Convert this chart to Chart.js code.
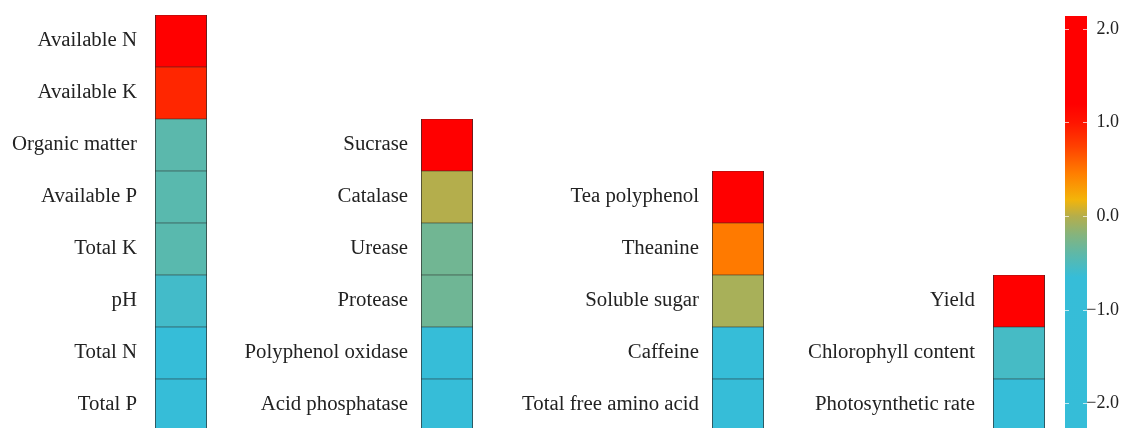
<!DOCTYPE html>
<html>
<head>
<meta charset="utf-8">
<script src="https://cdn.jsdelivr.net/npm/chart.js@4.4.1/dist/chart.umd.min.js"></script>
<style>
  html, body { margin: 0; padding: 0; background: #fff; overflow: hidden; }
  #wrap { position: relative; width: 1129px; height: 428px; overflow: hidden; }
  .box { position: absolute; }
</style>
</head>
<body>
<div id="wrap">
  <div class="box" style="left:0px;top:15px;width:207px;height:416px"><canvas id="soil"></canvas></div>
  <div class="box" style="left:221px;top:119px;width:252px;height:312px"><canvas id="enzyme"></canvas></div>
  <div class="box" style="left:500px;top:171px;width:264px;height:260px"><canvas id="quality"></canvas></div>
  <div class="box" style="left:780px;top:275px;width:265px;height:156px"><canvas id="growth"></canvas></div>
  <div class="box" style="left:1040px;top:0px;width:89px;height:428px"><canvas id="cbar"></canvas></div>
</div>
<script>
// --- data ---
const soilLabels = ['Available N', 'Available K', 'Organic matter', 'Available P', 'Total K', 'pH', 'Total N', 'Total P'];
const soilValues = [1.9, 0.9, -0.42, -0.43, -0.43, -0.57, -1.1, -1.3];

const enzymeLabels = ['Sucrase', 'Catalase', 'Urease', 'Protease', 'Polyphenol oxidase', 'Acid phosphatase'];
const enzymeValues = [1.8, 0.0, -0.3, -0.31, -1.0, -1.2];

const qualityLabels = ['Tea polyphenol', 'Theanine', 'Soluble sugar', 'Caffeine', 'Total free amino acid'];
const qualityValues = [1.6, 0.48, -0.05, -0.9, -1.1];

const growthLabels = ['Yield', 'Chlorophyll content', 'Photosynthetic rate'];
const growthValues = [1.5, -0.55, -1.0];

const cbMin = -2.26;
const cbMax = 2.14;
const cbTicks = [-2, -1, 0, 1, 2];

// colour map (value -> rgb)
const cmap = [
    [-2.3, [53, 189, 216]],
    [-0.65, [54, 189, 216]],
    [-0.4, [94, 184, 168]],
    [-0.2, [132, 180, 126]],
    [0.0, [180, 174, 76]],
    [0.18, [243, 180, 10]],
    [0.45, [255, 128, 0]],
    [0.75, [255, 64, 0]],
    [1.0, [255, 21, 0]],
    [1.2, [255, 0, 0]],
    [2.3, [255, 0, 0]]
];

function valueColor(v) {
    if (v <= cmap[0][0]) return 'rgb(' + cmap[0][1].join(',') + ')';
    for (let i = 1; i < cmap.length; i++) {
        if (v <= cmap[i][0]) {
            const [v0, c0] = cmap[i - 1];
            const [v1, c1] = cmap[i];
            const t = (v - v0) / (v1 - v0);
            const c = c0.map((a, k) => Math.round(a + (c1[k] - a) * t));
            return 'rgb(' + c.join(',') + ')';
        }
    }
    return 'rgb(' + cmap[cmap.length - 1][1].join(',') + ')';
}

const serif = '"Liberation Serif", "Times New Roman", serif';

// axis keeps a fixed width and no extra top/bottom padding
function fixAxis(width) {
    return s => {
        s.width = width;
        s.paddingTop = 0;
        s.paddingBottom = 0;
    };
}

// --- one heatmap column ---
function makeColumn(id, labels, values, axisWidth, pad) {
    new Chart(document.getElementById(id), {
        type: 'bar',
        data: {
            labels: labels,
            datasets: [{
                data: labels.map(() => 1),
                backgroundColor: values.map(valueColor),
                borderColor: '#2a2a2a',
                borderWidth: { top: 0.6, bottom: 0.6, left: 1, right: 1 },
                borderSkipped: false,
                categoryPercentage: 1,
                barPercentage: 1
            }]
        },
        options: {
            indexAxis: 'y',
            responsive: true,
            maintainAspectRatio: false,
            animation: false,
            events: [],
            layout: { padding: 0, autoPadding: false },
            plugins: { legend: { display: false }, tooltip: { enabled: false } },
            scales: {
                x: { display: false, min: 0, max: 1 },
                y: {
                    grid: { display: false, drawTicks: false },
                    border: { display: false },
                    ticks: { padding: pad, color: '#222', font: { family: serif, size: 20.8 } },
                    afterFit: fixAxis(axisWidth)
                }
            }
        }
    });
}

makeColumn('soil', soilLabels, soilValues, 155, 18);
makeColumn('enzyme', enzymeLabels, enzymeValues, 200, 13);
makeColumn('quality', qualityLabels, qualityValues, 212, 13);
makeColumn('growth', growthLabels, growthValues, 213, 18);

// --- colour bar ---
function barGradient(context) {
    const chart = context.chart;
    const { ctx, chartArea, scales } = chart;
    if (!chartArea) return null;
    const yTop = scales.y.getPixelForValue(cbMax);
    const yBot = scales.y.getPixelForValue(cbMin);
    const g = ctx.createLinearGradient(0, yTop, 0, yBot);
    cmap.forEach(([v, c]) => {
        const off = Math.min(1, Math.max(0, (cbMax - v) / (cbMax - cbMin)));
        g.addColorStop(off, 'rgb(' + c.join(',') + ')');
    });
    return g;
}

new Chart(document.getElementById('cbar'), {
    type: 'bar',
    data: {
        labels: [''],
        datasets: [{
            data: [[cbMin, cbMax]],
            backgroundColor: barGradient,
            borderWidth: 0,
            categoryPercentage: 1,
            barPercentage: 1
        }]
    },
    options: {
        responsive: true,
        maintainAspectRatio: false,
        animation: false,
        events: [],
        layout: { padding: { left: 25, right: 10, top: 16, bottom: 0 }, autoPadding: false },
        plugins: { legend: { display: false }, tooltip: { enabled: false } },
        scales: {
            x: { display: false },
            y: {
                position: 'right',
                min: cbMin,
                max: cbMax,
                afterBuildTicks: s => { s.ticks = cbTicks.map(v => ({ value: v })); },
                afterFit: fixAxis(32),
                grid: { drawOnChartArea: true, drawTicks: false, color: 'rgba(255,255,255,0.7)', lineWidth: 1, z: 1 },
                border: { display: false, dash: [4, 14] },
                ticks: {
                    crossAlign: 'far',
                    padding: 0,
                    color: '#222',
                    font: { family: serif, size: 18 },
                    callback: v => (v < 0 ? '\u2212' : '') + Math.abs(v).toFixed(1)
                }
            }
        }
    }
});
</script>
</body>
</html>
